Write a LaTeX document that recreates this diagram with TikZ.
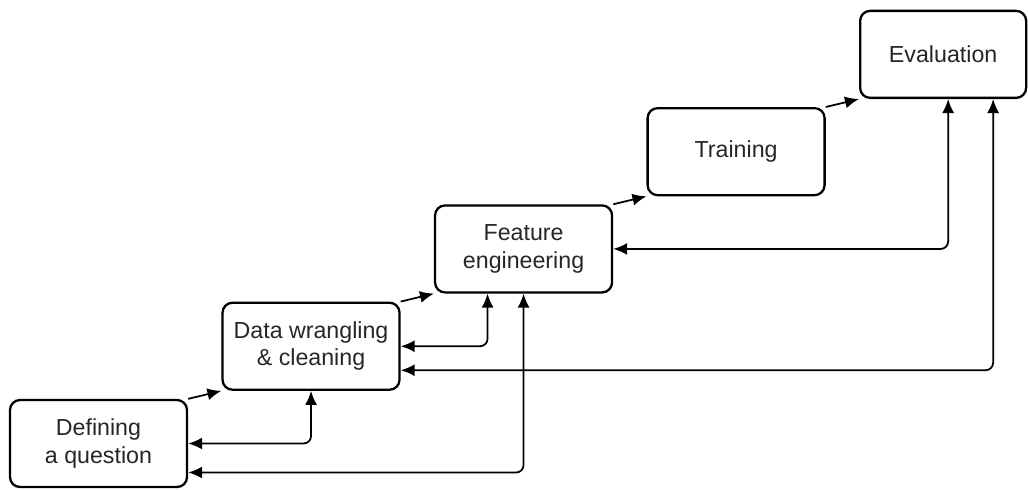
\documentclass[tikz,border=0pt]{standalone}
\usepackage{fontspec}
\setmainfont{Liberation Sans}
\usetikzlibrary{
	positioning,
	arrows.meta
}
\tikzset{
	node distance=1.6mm and 6.65mm,
	stage/.style={
		draw,
		rounded corners=2mm,
		line width=1.3pt,
		minimum width=3.54cm,
		minimum height=1.74cm,
		align=center,
		text=black!85,
		font=\fontsize{13.2}{15.6}\selectfont
	},
	every edge/.append style={
		line width=1pt,
		-{Latex[length=2.8mm,width=2.4mm]}
	},
	back/.style={
		line width=1pt,
		rounded corners=1.5mm,
		{Latex[length=2.8mm,width=2.4mm]}-{Latex[length=2.8mm,width=2.4mm]}
	}
}

\begin{document}
\begin{tikzpicture}
		\useasboundingbox (0,0) rectangle (20.56,-9.78);
		\draw
			node[stage] at (1.97,-8.87)              (def) {Defining\\a question}
			node[stage,above right=of def]          (dw)  {Data wrangling\\\& cleaning}
			node[stage,above right=of dw]           (fe)  {Feature\\engineering}
			node[stage,above right=of fe]           (tr)  {Training}
			node[stage,above right=of tr,
				minimum width=3.32cm]               (ev)  {Evaluation}

			(def.north east) edge (dw.south west)
			(dw.north east)  edge (fe.south west)
			(fe.north east)  edge (tr.south west)
			(tr.north east)  edge (ev.south west)
		;
		% feedback loops
		\draw[back] (def.east) -| (dw.south);
		\draw[back] (dw.east) -| ([xshift=-7.2mm]fe.south);
		\draw[back] ([yshift=-5.8mm]def.east) -| (fe.south);
		\draw[back] (fe.east) -| ([xshift=1mm]ev.south);
		\draw[back] ([yshift=-4.8mm]dw.east) -| ([xshift=10mm]ev.south);
	\end{tikzpicture}
\end{document}
